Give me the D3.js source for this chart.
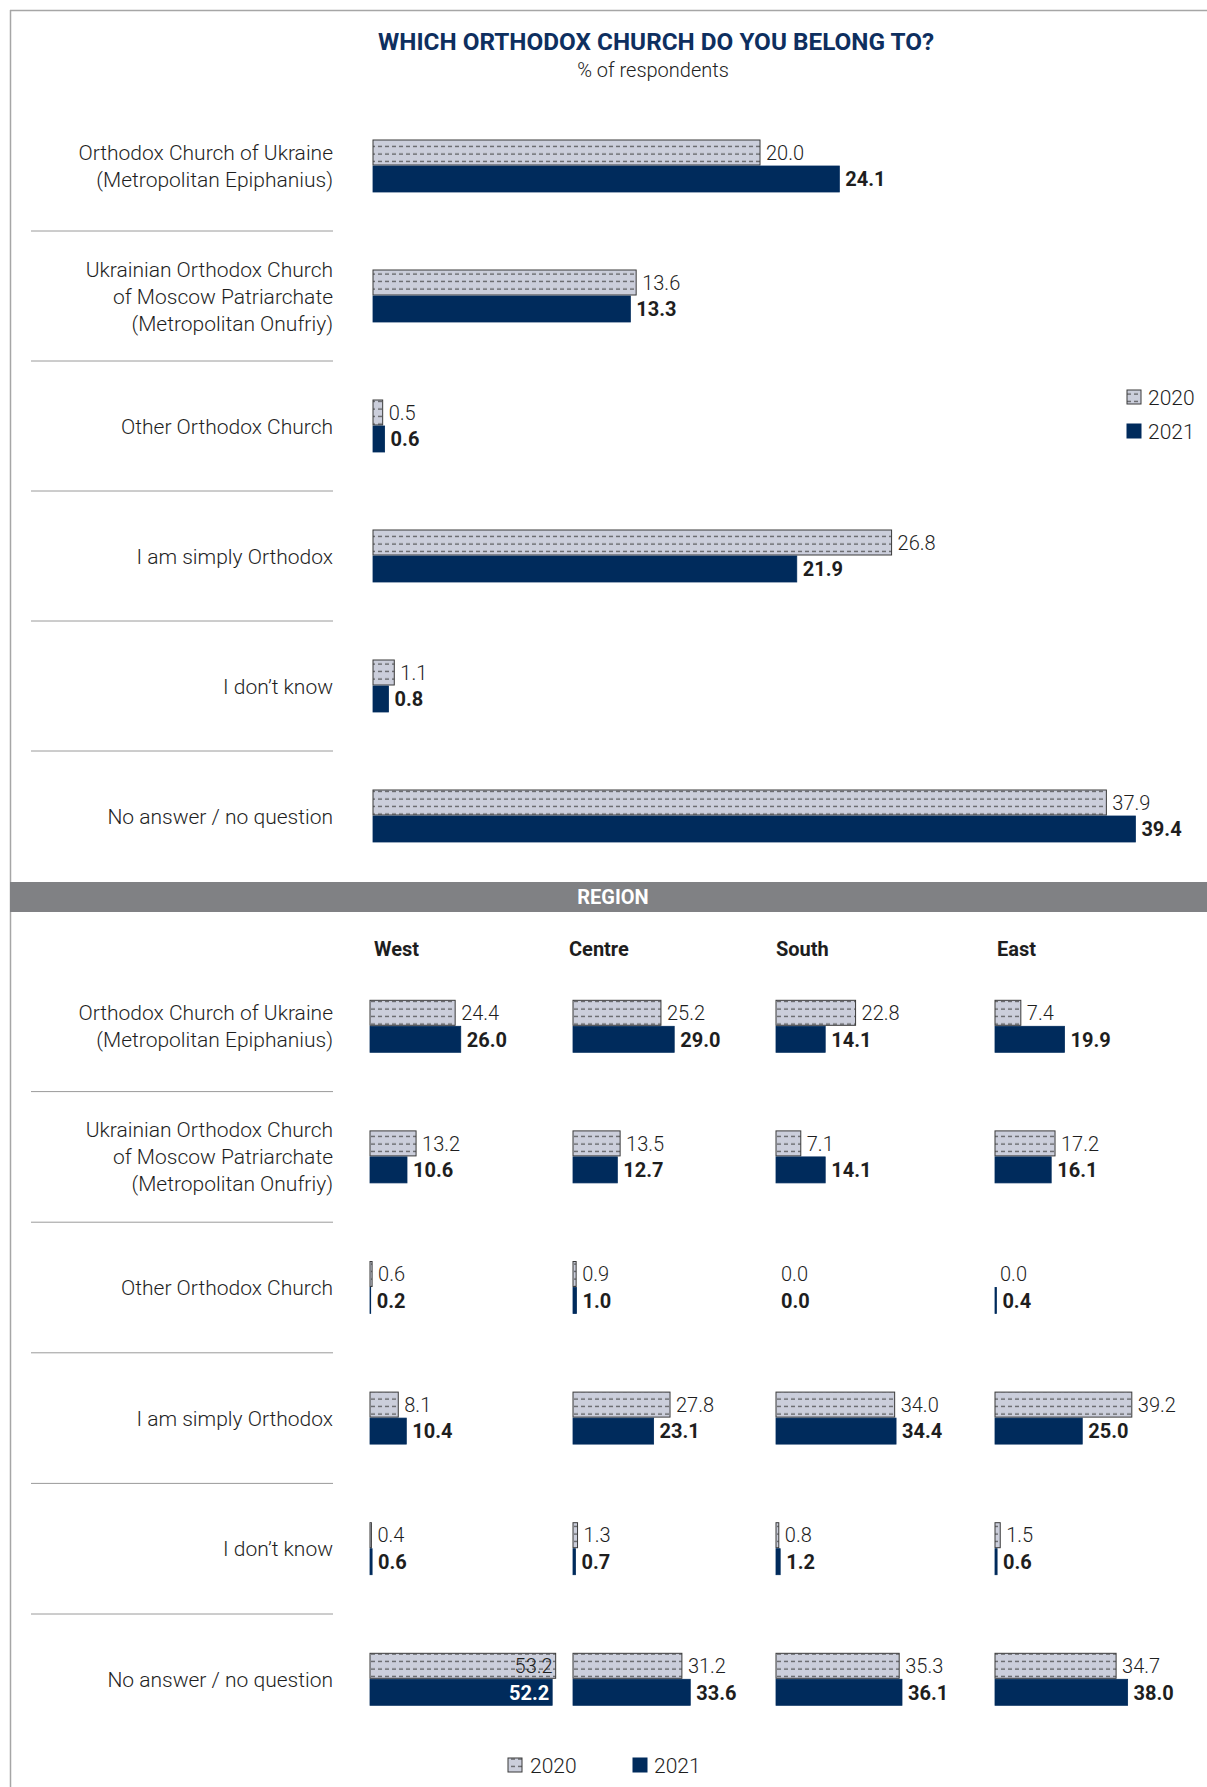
<!DOCTYPE html>
<html><head><meta charset="utf-8">
<script src="https://cdn.jsdelivr.net/npm/d3@7"></script>
<style>
html,body{margin:0;padding:0;background:#fff;}
svg text{font-family:Roboto,"Noto Sans",sans-serif;}
</style></head>
<body>
<svg id="chart" width="1207" height="1787"></svg>
<script>
const categories = [
  ["Orthodox Church of Ukraine","(Metropolitan Epiphanius)"],
  ["Ukrainian Orthodox Church","of Moscow Patriarchate","(Metropolitan Onufriy)"],
  ["Other Orthodox Church"],
  ["I am simply Orthodox"],
  ["I don’t know"],
  ["No answer / no question"]
];
const years = ["2020","2021"];
const total2020 = [20.0, 13.6, 0.5, 26.8, 1.1, 37.9];
const total2021 = [24.1, 13.3, 0.6, 21.9, 0.8, 39.4];
const regions = ["West","Centre","South","East"];
const west2020   = [24.4, 13.2, 0.6, 8.1, 0.4, 53.2];
const west2021   = [26.0, 10.6, 0.2, 10.4, 0.6, 52.2];
const centre2020 = [25.2, 13.5, 0.9, 27.8, 1.3, 31.2];
const centre2021 = [29.0, 12.7, 1.0, 23.1, 0.7, 33.6];
const south2020  = [22.8, 7.1, 0.0, 34.0, 0.8, 35.3];
const south2021  = [14.1, 14.1, 0.0, 34.4, 1.2, 36.1];
const east2020   = [7.4, 17.2, 0.0, 39.2, 1.5, 34.7];
const east2021   = [19.9, 16.1, 0.4, 25.0, 0.6, 38.0];
const regionData = [[west2020,west2021],[centre2020,centre2021],[south2020,south2021],[east2020,east2021]];

const NAVY = "#002b5c";
const svg = d3.select("#chart");
const defs = svg.append("defs");
const pat = defs.append("pattern").attr("id","hatch").attr("patternUnits","userSpaceOnUse")
  .attr("width",7).attr("height",7.5);
pat.append("rect").attr("width",7).attr("height",7.5).attr("fill","#cbcedb");
pat.append("line").attr("x1",0).attr("x2",4).attr("y1",4).attr("y2",4)
  .attr("stroke","#4a4a4a").attr("stroke-width",1.1);

// frame
svg.append("line").attr("x1",10).attr("x2",1207).attr("y1",10.5).attr("y2",10.5).attr("stroke","#a6a6a6").attr("stroke-width",1.5);
svg.append("line").attr("x1",10.5).attr("x2",10.5).attr("y1",10).attr("y2",1787).attr("stroke","#a6a6a6").attr("stroke-width",1.5);

// title
svg.append("text").attr("x",656).attr("y",50).attr("text-anchor","middle")
  .attr("font-size",23).attr("font-weight",700).attr("fill","#0e2f5f")
  .attr("textLength",556).attr("lengthAdjust","spacingAndGlyphs")
  .text("WHICH ORTHODOX CHURCH DO YOU BELONG TO?");
svg.append("text").attr("x",653).attr("y",77).attr("text-anchor","middle")
  .attr("font-size",20).attr("font-weight",300).attr("fill","#222").text("% of respondents");

const rowIdx = d3.range(categories.length);

function drawLabels(yScale){
  const g = svg.append("g");
  rowIdx.forEach(i=>{
    const lines = categories[i];
    const c = yScale(i) + yScale.bandwidth()/2;
    const lh = 27;
    const t = g.append("text").attr("text-anchor","end").attr("font-size",21)
      .attr("font-weight",300).attr("fill","#1e1e1e");
    lines.forEach((ln,j)=>{
      t.append("tspan").attr("x",333).attr("y", c + (j-(lines.length-1)/2)*lh).attr("dy","0.36em").text(ln);
    });
    if(i < categories.length-1){
      const yy = yScale(i)+yScale.bandwidth();
      g.append("line").attr("x1",31).attr("x2",333).attr("y1",yy).attr("y2",yy)
        .attr("stroke","#9a9a9a").attr("stroke-width",1);
    }
  });
}

function drawBars(x, yScale, v2020, v2021, insideThreshold){
  const g = svg.append("g");
  rowIdx.forEach(i=>{
    const c = yScale(i) + yScale.bandwidth()/2;
    const inner = d3.scaleBand().domain(years).range([c-26, c+26]);
    [v2020[i], v2021[i]].forEach((v,k)=>{
      const yr = years[k];
      const y0 = inner(yr), h = inner.bandwidth() - (k===0?1:0);
      const w = x(v) - x(0);
      if(v > 0){
        g.append("rect").attr("x",x(0)).attr("y",y0).attr("width",w).attr("height",h)
          .attr("fill", k===0 ? "url(#hatch)" : NAVY)
          .attr("stroke", k===0 ? "#3a3a3a" : NAVY).attr("stroke-width", k===0?1:0.8);
      }
      const inside = insideThreshold !== undefined && v > insideThreshold;
      g.append("text")
        .attr("x", inside ? x(v)-3 : x(v) + (v>0?6:5))
        .attr("y", y0 + h/2).attr("dy","0.36em")
        .attr("text-anchor", inside ? "end" : "start")
        .attr("font-size",20).attr("font-weight", k===0?300:700)
        .attr("fill", inside && k===1 ? "#fff" : "#1e1e1e")
        .text(d3.format(".1f")(v));
    });
  });
}

// top chart
const yTop = d3.scaleBand().domain(rowIdx).range([101, 881]);
const xTop = d3.scaleLinear().domain([0,40]).range([373, 1147]);
drawLabels(yTop);
drawBars(xTop, yTop, total2020, total2021);

// right legend
const lg = svg.append("g");
years.forEach((yr,k)=>{
  const yy = 390 + k*34;
  lg.append("rect").attr("x",1127).attr("y",yy).attr("width",14).attr("height",14)
    .attr("fill",k===0?"url(#hatch)":NAVY).attr("stroke",k===0?"#3a3a3a":NAVY);
  lg.append("text").attr("x",1148).attr("y",yy+7).attr("dy","0.36em").attr("font-size",21).attr("font-weight",300).attr("fill","#1e1e1e").text(yr);
});

// region band
svg.append("rect").attr("x",10).attr("y",882).attr("width",1197).attr("height",30).attr("fill","#808184");
svg.append("text").attr("x",613).attr("y",897).attr("dy","0.36em").attr("text-anchor","middle")
  .attr("font-size",20).attr("font-weight",700).attr("fill","#fff").text("REGION");

// region charts
const yReg = d3.scaleBand().domain(rowIdx).range([961, 1744.6]);
drawLabels(yReg);
const regionStarts = d3.scaleOrdinal().domain(regions).range([370, 573, 776, 995]);
const headerX = d3.scaleOrdinal().domain(regions).range([374, 569, 776, 997]);
const unit = 3.49;
regions.forEach((r,ri)=>{
  const x0 = regionStarts(r);
  const x = d3.scaleLinear().domain([0,40]).range([x0, x0 + 40*unit]);
  svg.append("text").attr("x",headerX(r)).attr("y",949).attr("dy","0.36em")
    .attr("font-size",20).attr("font-weight",700).attr("fill","#1e1e1e").text(r);
  drawBars(x, yReg, regionData[ri][0], regionData[ri][1], ri===0 ? 45 : undefined);
});

// bottom legend
const bl = svg.append("g");
[[508,530],[633,654]].forEach(([sx,tx],k)=>{
  bl.append("rect").attr("x",sx).attr("y",1758).attr("width",14).attr("height",14)
    .attr("fill",k===0?"url(#hatch)":NAVY).attr("stroke",k===0?"#3a3a3a":NAVY);
  bl.append("text").attr("x",tx).attr("y",1765).attr("dy","0.36em").attr("font-size",21).attr("font-weight",300).attr("fill","#1e1e1e").text(years[k]);
});
</script>
</body></html>
